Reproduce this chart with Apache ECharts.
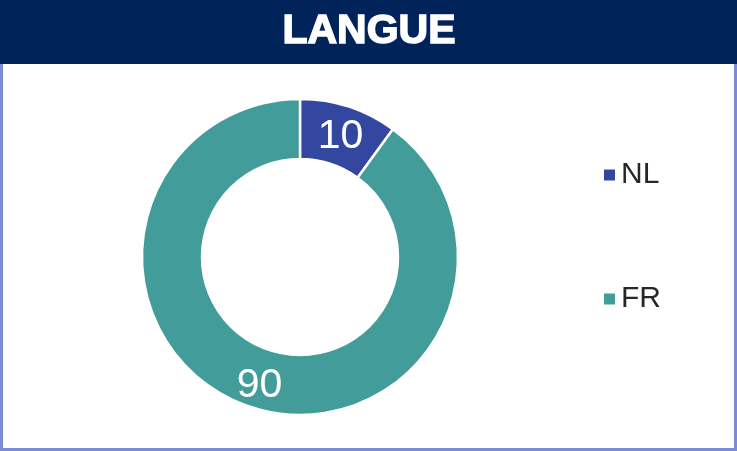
<!DOCTYPE html>
<html><head><meta charset="utf-8">
<script src="https://cdn.jsdelivr.net/npm/echarts@6/dist/echarts.min.js"></script>
<style>html,body{margin:0;padding:0;background:#fff}#c{width:737px;height:451px}</style>
</head><body><div id="c"></div>
<script>
const title = 'LANGUE';
const categories = ['NL', 'FR'];
const values = [10, 90];
const colors = ['#3346A0', '#429C9A'];

const chart = echarts.init(document.getElementById('c'));
chart.setOption({
  animation: false,
  color: colors,
  graphic: [
    {type: 'rect', shape: {x: 1.5, y: 1.5, width: 734, height: 448}, style: {fill: '#fff', stroke: '#7B8BD8', lineWidth: 3}, z: 0},
    {type: 'rect', shape: {x: 0, y: 0, width: 737, height: 64}, style: {fill: '#00235A'}, z: 1},
    {type: 'text', x: 369, y: 32, style: {text: title, fill: '#fff', stroke: '#fff', lineWidth: 1.5, font: 'bold 41px "Liberation Sans", Arial, sans-serif', align: 'center', verticalAlign: 'middle'}, z: 2}
  ],
  legend: [
    {data: [categories[0]], left: 597, top: 155, orient: 'vertical', itemWidth: 13, itemHeight: 13, icon: 'rect', itemGap: 8,
     textStyle: {fontSize: 30, color: '#262626', fontFamily: 'Liberation Sans, Arial, sans-serif'}},
    {data: [categories[1]], left: 597, top: 279, orient: 'vertical', itemWidth: 13, itemHeight: 13, icon: 'rect',
     textStyle: {fontSize: 30, color: '#262626', fontFamily: 'Liberation Sans, Arial, sans-serif'}}
  ],
  series: [{
    type: 'pie',
    center: [300, 257],
    radius: [98, 158],
    startAngle: 90,
    clockwise: true,
    itemStyle: {borderColor: '#fff', borderWidth: 2.5},
    label: {show: true, position: 'inside', formatter: '{c}', color: '#fff', fontSize: 41, fontFamily: 'Liberation Sans, Arial, sans-serif'},
    labelLayout: {dy: 4},
    labelLine: {show: false},
    emphasis: {disabled: true},
    data: categories.map((n, i) => ({name: n, value: values[i]}))
  }]
});
</script></body></html>
